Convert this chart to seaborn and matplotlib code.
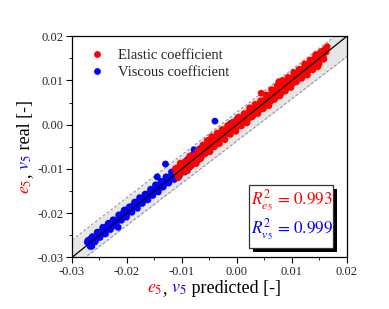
import numpy as np
import pandas as pd
import matplotlib
matplotlib.use('Agg')
import matplotlib.pyplot as plt
import matplotlib.patches as mpatches
from matplotlib.ticker import FixedLocator, FormatStrFormatter, AutoMinorLocator
import seaborn as sns

# Data
ticks = [-0.03, -0.02, -0.01, 0.00, 0.01, 0.02]

viscous_pred = [-0.0272, -0.0270, -0.0268, -0.0266, -0.0264, -0.0262, -0.0259, -0.0256, -0.0253, -0.0250,
                -0.0247, -0.0245, -0.0242, -0.0240, -0.0237, -0.0235, -0.0232, -0.0229, -0.0227, -0.0224,
                -0.0222, -0.0219, -0.0216, -0.0214, -0.0211, -0.0208, -0.0206, -0.0203, -0.0200, -0.0198,
                -0.0195, -0.0192, -0.0190, -0.0187, -0.0184, -0.0182, -0.0179, -0.0176, -0.0174, -0.0171,
                -0.0168, -0.0166, -0.0163, -0.0160, -0.0158, -0.0155, -0.0152, -0.0150, -0.0147, -0.0145,
                -0.0144, -0.0141, -0.0139, -0.0136, -0.0133, -0.0131, -0.0130, -0.0128, -0.0125, -0.0123,
                -0.0120, -0.0117, -0.0115, -0.0112, -0.0110, -0.0107, -0.0104, -0.0102, -0.0099, -0.0096,
                -0.0094, -0.0091, -0.0088, -0.0085, -0.0082, -0.0079, -0.0076, -0.0073, -0.0070, -0.0066,
                -0.0062, -0.0058, -0.0054, -0.0050, -0.0046, -0.0040, -0.0040, -0.0011, 0.0001,
                -0.0271, -0.0267, -0.0263, -0.0258, -0.0254, -0.0249, -0.0244, -0.0239, -0.0234, -0.0230,
                -0.0225, -0.0220, -0.0215, -0.0210, -0.0205, -0.0201, -0.0196, -0.0191, -0.0186, -0.0181,
                -0.0177, -0.0172, -0.0167, -0.0162, -0.0157, -0.0153, -0.0148, -0.0143, -0.0138, -0.0134,
                -0.0129, -0.0124, -0.0119, -0.0114, -0.0109, -0.0105, -0.0100, -0.0095, -0.0090, -0.0086,
                -0.0081, -0.0078, -0.0072, -0.0068, -0.0060, -0.0056, -0.0048]
viscous_real = [-0.0266, -0.0262, -0.0270, -0.0258, -0.0275, -0.0262, -0.0255, -0.0259, -0.0248, -0.0252,
                -0.0241, -0.0246, -0.0236, -0.0243, -0.0230, -0.0236, -0.0224, -0.0231, -0.0220, -0.0226,
                -0.0216, -0.0221, -0.0232, -0.0208, -0.0214, -0.0201, -0.0207, -0.0196, -0.0202, -0.0191,
                -0.0195, -0.0185, -0.0190, -0.0180, -0.0186, -0.0175, -0.0179, -0.0170, -0.0175, -0.0165,
                -0.0169, -0.0160, -0.0164, -0.0155, -0.0159, -0.0149, -0.0154, -0.0144, -0.0149, -0.0118,
                -0.0140, -0.0144, -0.0134, -0.0138, -0.0129, -0.0133, -0.0089, -0.0124, -0.0128, -0.0118,
                -0.0122, -0.0113, -0.0118, -0.0108, -0.0113, -0.0104, -0.0109, -0.0098, -0.0104, -0.0094,
                -0.0099, -0.0089, -0.0093, -0.0083, -0.0088, -0.0076, -0.0082, -0.0070, -0.0073, -0.0063,
                -0.0066, -0.0054, -0.0057, -0.0046, -0.0044, 0.0008, -0.0037, 0.0003, 0.0014,
                -0.0262, -0.0275, -0.0253, -0.0265, -0.0243, -0.0255, -0.0232, -0.0247, -0.0223, -0.0237,
                -0.0215, -0.0229, -0.0204, -0.0216, -0.0193, -0.0209, -0.0186, -0.0198, -0.0175, -0.0189,
                -0.0165, -0.0178, -0.0157, -0.0170, -0.0146, -0.0160, -0.0136, -0.0152, -0.0128, -0.0141,
                -0.0118, -0.0132, -0.0107, -0.0124, -0.0100, -0.0116, -0.0090, -0.0107, -0.0079, -0.0096,
                -0.0069, -0.0057, -0.0081, -0.0055, -0.0050, -0.0062, -0.0040]

elastic_pred = [-0.0112, -0.0110, -0.0108, -0.0106, -0.0104, -0.0102, -0.0100, -0.0098, -0.0096, -0.0093,
                -0.0091, -0.0089, -0.0087, -0.0084, -0.0082, -0.0080, -0.0077, -0.0075, -0.0072, -0.0070,
                -0.0068, -0.0065, -0.0063, -0.0060, -0.0058, -0.0055, -0.0053, -0.0050, -0.0048, -0.0045,
                -0.0043, -0.0040, -0.0038, -0.0035, -0.0033, -0.0030, -0.0028, -0.0025, -0.0023, -0.0020,
                -0.0018, -0.0015, -0.0013, -0.0010, -0.0008, -0.0005, -0.0003, 0.0000, 0.0002, 0.0005,
                0.0007, 0.0010, 0.0012, 0.0015, 0.0017, 0.0020, 0.0022, 0.0025, 0.0027, 0.0030,
                0.0032, 0.0035, 0.0037, 0.0040, 0.0042, 0.0044, 0.0045, 0.0047, 0.0050, 0.0052,
                0.0055, 0.0057, 0.0060, 0.0062, 0.0065, 0.0067, 0.0070, 0.0072, 0.0074, 0.0076,
                0.0077, 0.0080, 0.0082, 0.0085, 0.0087, 0.0090, 0.0092, 0.0095, 0.0097, 0.0100,
                0.0102, 0.0105, 0.0107, 0.0110, 0.0112, 0.0115, 0.0117, 0.0120, 0.0122, 0.0125,
                0.0127, 0.0130, 0.0132, 0.0135, 0.0137, 0.0140, 0.0142, 0.0145, 0.0147, 0.0148,
                0.0150, 0.0152, 0.0155, 0.0157, 0.0160, 0.0162, 0.0164,
                -0.0111, -0.0107, -0.0103, -0.0099, -0.0095, -0.0090, -0.0086, -0.0083, -0.0079, -0.0074,
                -0.0071, -0.0066, -0.0062, -0.0057, -0.0054, -0.0049, -0.0046, -0.0041, -0.0036, -0.0032,
                -0.0027, -0.0022, -0.0017, -0.0012, -0.0007, -0.0002, 0.0003, 0.0008, 0.0013, 0.0018,
                0.0023, 0.0028, 0.0033, 0.0038, 0.0043, 0.0048, 0.0053, 0.0058, 0.0063, 0.0068,
                0.0073, 0.0078, 0.0083, 0.0088, 0.0093, 0.0098, 0.0103, 0.0108, 0.0113, 0.0118,
                0.0123, 0.0128, 0.0133, 0.0138, 0.0143, 0.0149, 0.0153, 0.0158, 0.0161]
elastic_real = [-0.0100, -0.0108, -0.0097, -0.0112, -0.0096, -0.0106, -0.0091, -0.0103, -0.0089, -0.0099,
                -0.0084, -0.0096, -0.0081, -0.0091, -0.0076, -0.0088, -0.0072, -0.0082, -0.0066, -0.0078,
                -0.0062, -0.0073, -0.0057, -0.0067, -0.0052, -0.0061, -0.0046, -0.0055, -0.0038, -0.0049,
                -0.0031, -0.0043, -0.0026, -0.0037, -0.0021, -0.0031, -0.0017, -0.0027, -0.0012, -0.0022,
                -0.0009, -0.0018, -0.0004, -0.0014, 0.0001, -0.0009, 0.0006, -0.0005, 0.0010, 0.0000,
                0.0014, 0.0004, 0.0019, 0.0009, 0.0024, 0.0013, 0.0029, 0.0017, 0.0034, 0.0022,
                0.0038, 0.0027, 0.0043, 0.0032, 0.0048, 0.0071, 0.0037, 0.0053, 0.0041, 0.0058,
                0.0046, 0.0063, 0.0051, 0.0068, 0.0056, 0.0073, 0.0061, 0.0079, 0.0065, 0.0097,
                0.0083, 0.0071, 0.0089, 0.0077, 0.0093, 0.0082, 0.0097, 0.0087, 0.0101, 0.0092,
                0.0106, 0.0096, 0.0111, 0.0101, 0.0117, 0.0106, 0.0122, 0.0111, 0.0128, 0.0116,
                0.0133, 0.0122, 0.0140, 0.0127, 0.0145, 0.0132, 0.0151, 0.0136, 0.0131, 0.0156,
                0.0161, 0.0147, 0.0166, 0.0155, 0.0170, 0.0164, 0.0176,
                -0.0099, -0.0120, -0.0087, -0.0108, -0.0084, -0.0104, -0.0071, -0.0093, -0.0070, -0.0088,
                -0.0058, -0.0077, -0.0046, -0.0065, -0.0036, -0.0061, -0.0027, -0.0050, -0.0019, -0.0043,
                -0.0011, -0.0034, -0.0002, -0.0022, 0.0006, -0.0015, 0.0017, -0.0003, 0.0025, 0.0004,
                0.0038, 0.0018, 0.0046, 0.0025, 0.0054, 0.0036, 0.0067, 0.0043, 0.0079, 0.0057,
                0.0088, 0.0065, 0.0100, 0.0076, 0.0107, 0.0084, 0.0118, 0.0097, 0.0125, 0.0105,
                0.0137, 0.0112, 0.0146, 0.0124, 0.0158, 0.0137, 0.0164, 0.0148, 0.0169]

# reference line and shaded band
line_x = [-0.03, 0.02]
line_y = [-0.03, 0.02]
band_upper = [-0.0261, 0.0221]
band_lower = [-0.0323, 0.0154]

r2_labels = [r'$R^{2}_{e_5}\,=\,0.993$', r'$R^{2}_{v_5}\,=\,0.999$']
series_names = ['Elastic coefficient', 'Viscous coefficient']

RED = '#ff0000'
BLUE = '#0000ff'

sns.set_style('ticks')
plt.rcParams['font.family'] = ['serif']
plt.rcParams['font.serif'] = ['Liberation Serif', 'DejaVu Serif']
plt.rcParams['mathtext.fontset'] = 'stix'
plt.rcParams['axes.unicode_minus'] = False

df = pd.concat([
    pd.DataFrame({'pred': viscous_pred, 'real': viscous_real, 'kind': series_names[1]}),
    pd.DataFrame({'pred': elastic_pred, 'real': elastic_real, 'kind': series_names[0]}),
], ignore_index=True)

fig = plt.figure(figsize=(3.89, 3.09), dpi=100)
ax = fig.add_axes([0.185, 0.167, 0.707, 0.716])

ax.fill_between(line_x, band_lower, band_upper, color='#e6e6e6', lw=0, zorder=1)
ax.plot(line_x, band_upper, color='#8a8a8a', lw=0.7, ls=(0, (3, 2)), zorder=1.5)
ax.plot(line_x, band_lower, color='#8a8a8a', lw=0.7, ls=(0, (3, 2)), zorder=1.5)

sns.scatterplot(data=df, x='pred', y='real', hue='kind', hue_order=series_names,
                palette={series_names[0]: RED, series_names[1]: BLUE},
                s=24, linewidth=0, alpha=1, ax=ax, zorder=2)
ax.plot(line_x, line_y, color='black', lw=0.9, zorder=3)

ax.set_xlim(-0.03, 0.02)
ax.set_ylim(-0.03, 0.02)
for axis in (ax.xaxis, ax.yaxis):
    axis.set_major_locator(FixedLocator(ticks))
    axis.set_major_formatter(FormatStrFormatter('%.2f'))
    axis.set_minor_locator(AutoMinorLocator(2))
ax.tick_params(which='major', length=4, width=0.8, labelsize=9, color='black', pad=2)
ax.tick_params(which='minor', length=2, width=0.6, color='black')
for sp in ax.spines.values():
    sp.set_linewidth(0.9)
    sp.set_color('black')
ax.set_xlabel('')
ax.set_ylabel('')

handles, labels = ax.get_legend_handles_labels()
ax.legend(handles, labels, loc='upper left', bbox_to_anchor=(0.012, 1.0), frameon=False,
          fontsize=10.5, handlelength=1.2, handletextpad=0.8, labelspacing=0.25, borderpad=0.4)

# R^2 box with shadow
bx0, by0, bw, bh = 0.644, 0.041, 0.306, 0.286
ax.add_patch(mpatches.Rectangle((bx0 + 0.014, by0 - 0.018), bw, bh, transform=ax.transAxes,
                                facecolor='black', edgecolor='black', lw=0, zorder=5, clip_on=False))
ax.add_patch(mpatches.Rectangle((bx0, by0), bw, bh, transform=ax.transAxes,
                                facecolor='white', edgecolor='#333333', lw=0.9, zorder=6, clip_on=False))
ax.text(bx0 + 0.008, 0.256, r2_labels[0], color=RED, fontsize=12.3, transform=ax.transAxes,
        ha='left', va='center', zorder=7)
ax.text(bx0 + 0.008, 0.123, r2_labels[1], color=BLUE, fontsize=12.3, transform=ax.transAxes,
        ha='left', va='center', zorder=7)

# multi-coloured axis labels
fig.canvas.draw()
renderer = fig.canvas.get_renderer()


def coloured_label(pieces, x, y, rotation=0, size=13):
    widths = []
    for s, c in pieces:
        t = fig.text(0, 0, s, fontsize=size)
        widths.append(t.get_window_extent(renderer).width)
        t.remove()
    pos = -sum(widths) / 2
    for (s, c), w in zip(pieces, widths):
        if rotation == 0:
            fig.text(x + pos / fig.bbox.width, y, s, color=c, fontsize=size,
                     ha='left', va='baseline')
        else:
            fig.text(x, y + pos / fig.bbox.height, s, color=c, fontsize=size, rotation=90,
                     rotation_mode='anchor', ha='left', va='baseline')
        pos += w


label_pieces = [(r'$e_5$', RED), (',', 'black'), (r' $v_5$', BLUE)]
coloured_label(label_pieces + [(' predicted [-]', 'black')], 0.55, 0.052)
coloured_label(label_pieces + [(' real [-]', 'black')], 0.077, 0.525, rotation=90)

fig.savefig('out.png', dpi=100)
